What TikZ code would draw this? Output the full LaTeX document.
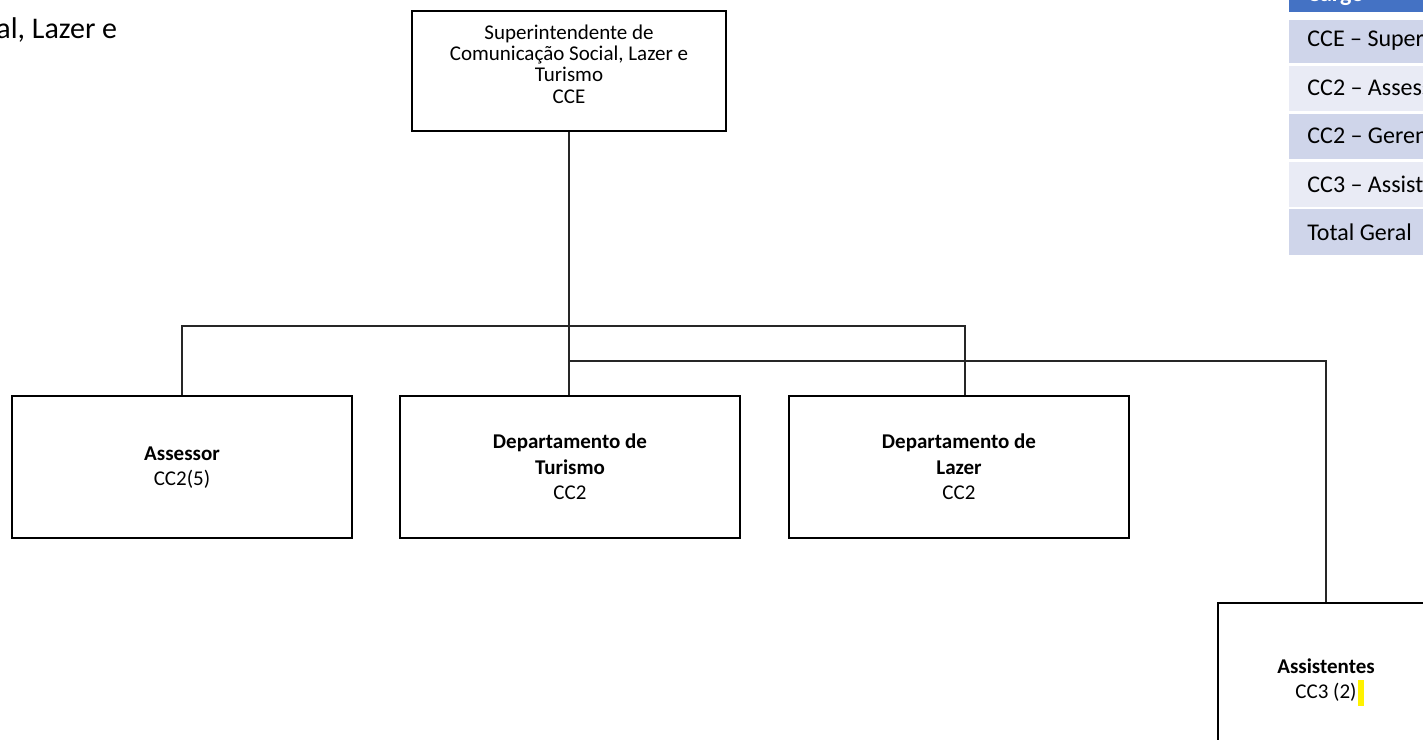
\documentclass[tikz,border=0pt]{standalone}
\usepackage{fontspec}
\setmainfont{Carlito}
\definecolor{hdrblue}{HTML}{4472C4}
\definecolor{rowdark}{HTML}{CFD5EA}
\definecolor{rowlight}{HTML}{E9EBF5}
\begin{document}
\begin{tikzpicture}[x=0.5pt, y=-0.5pt,
        link/.style={draw, line width=0.6pt, black!85},
        row/.style={anchor=west, inner sep=0pt, font=\fontsize{12}{12}\selectfont}
    ]
    \useasboundingbox (0,0) rectangle (1423,739);
    \clip (0,0) rectangle (1423,739);

    % title, cut at the left edge
    \node[anchor=base west, inner sep=0pt, font=\fontsize{15}{15}\selectfont] (title) at (-4,38) {al, Lazer e};

    % table of cargos, cut at the right edge
    \fill[hdrblue] (1289,0) rectangle (1423,12);
    \node[anchor=base west, inner sep=0pt, text=white, font=\fontsize{12}{12}\selectfont\bfseries] (hdr) at (1307,2) {Cargo};
    \fill[rowdark] (1289,20) rectangle (1423,63);
    \fill[rowlight] (1289,66) rectangle (1423,111);
    \fill[rowdark] (1289,114) rectangle (1423,159);
    \fill[rowlight] (1289,162) rectangle (1423,207);
    \fill[rowdark] (1289,209) rectangle (1423,255);
    \node[row] (rowA) at (1307,41) {CCE – Super};
    \node[row] (rowB) at (1307,88) {CC2 – Assess};
    \node[row] (rowC) at (1307,136) {CC2 – Geren};
    \node[row] (rowD) at (1307,184) {CC3 – Assist};
    \node[row] (rowE) at (1307,232) {Total Geral};

    \begin{scope}[
            every node/.style={draw, line width=1.1pt, align=center, inner sep=0pt,
                minimum width=170pt, minimum height=71pt,
                font=\fontsize{10.5}{12.8}\selectfont}
        ]
        \node[minimum width=157pt, minimum height=60pt, text depth=7pt,
            font=\fontsize{10.5}{10.6}\selectfont] (sup) at (569,71)
            {Superintendente de\\Comunicação Social, Lazer e\\Turismo\\CCE};
        \node[text depth=1pt] (ass) at (182,467) {\textbf{Assessor}\\CC2(5)};
        \node (tur) at (570,467) {\textbf{Departamento de}\\\textbf{Turismo}\\CC2};
        \node (laz) at (959,467) {\textbf{Departamento de}\\\textbf{Lazer}\\CC2};
        \node[minimum width=108pt, minimum height=77pt] (assist) at (1326,680) {\textbf{Assistentes}\\CC3 (2)};
    \end{scope}

    \fill[yellow] (1358,680) rectangle (1364,706);

    \coordinate (busA) at (569,326);
    \coordinate (busB) at (569,361);
    \path[link] (sup.south) -- (sup.south |- tur.north);
    \path[link] (ass.north) |- (busA) -| ([xshift=3pt]laz.north);
    \path[link] (busB) -| (assist.north);
\end{tikzpicture}
\end{document}
